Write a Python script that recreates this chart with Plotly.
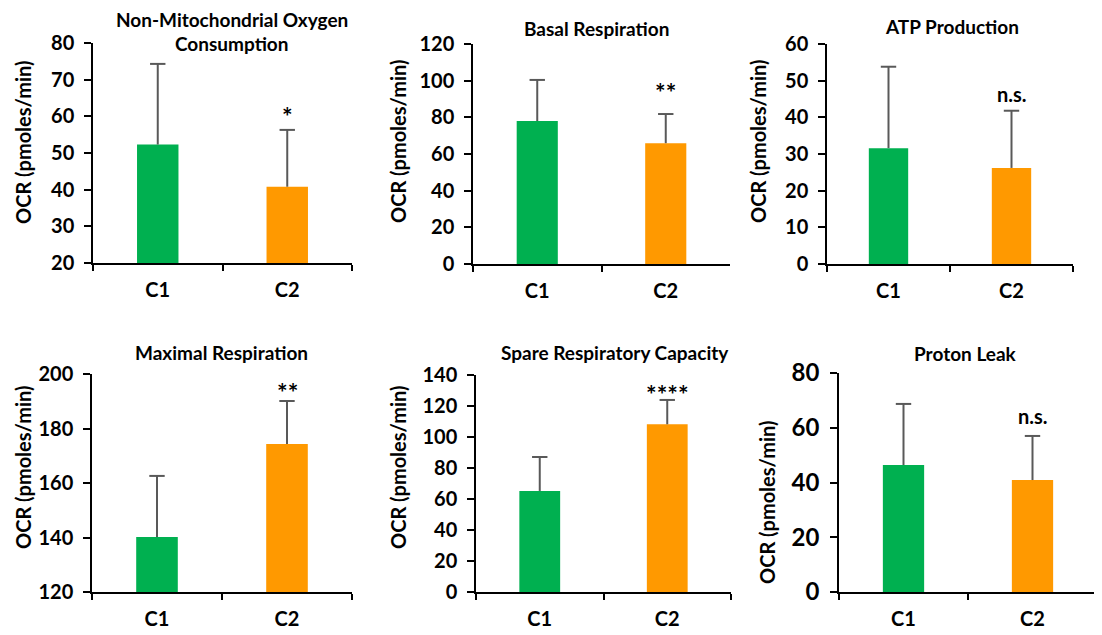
import plotly.graph_objects as go

# page body has an 8px margin, so the figure is drawn 8px in from the window edge
OFF = 8
W, H = 1102 - OFF, 635 - OFF

categories = ["C1", "C2"]
panel_titles = ["Non-Mitochondrial Oxygen Consumption", "Basal Respiration", "ATP Production",
                "Maximal Respiration", "Spare Respiratory Capacity", "Proton Leak"]

nonmito_mean = [52.3, 40.8]
nonmito_err = [22.0, 15.5]
basal_mean = [78.0, 65.9]
basal_err = [22.4, 15.9]
atp_mean = [31.6, 26.2]
atp_err = [22.2, 15.6]
maximal_mean = [140.2, 174.3]
maximal_err = [22.4, 15.8]
spare_mean = [65.2, 108.2]
spare_err = [21.9, 15.7]
proton_mean = [46.4, 40.9]
proton_err = [22.3, 16.1]

significance = ["*", "**", "n.s.", "**", "****", "n.s."]

y_ranges = [[20, 80], [0, 120], [0, 60], [120, 200], [0, 140], [0, 80]]
y_dticks = [10, 20, 10, 20, 20, 20]

means = [nonmito_mean, basal_mean, atp_mean, maximal_mean, spare_mean, proton_mean]
errs = [nonmito_err, basal_err, atp_err, maximal_err, spare_err, proton_err]

# layout geometry (window pixels): x0, x1, ytop, ybottom
boxes = [(93, 352, 43, 263), (473, 730, 44, 264), (827, 1073, 44, 264),
         (92, 352, 374, 592), (476, 731, 375, 592), (839, 1097, 373, 592)]
ytitle_pos = [(23, 142), (398, 141), (758, 141), (23, 467), (398, 467), (767, 502)]
title_pos = [(232, 28), (596, 28), (952, 27), (221, 352), (615, 352), (965, 353)]
sig_shift = [8, 16, 11, 3, 0, 14]
tick_font_sizes = [20, 20, 20, 20, 20, 24]


def px_x(x):
    return (x - OFF) / W


def px_y(y):
    return 1 - (y - OFF) / H


bar_colors = ["#00B050", "#FF9900"]
ERR_COLOR = "#595959"
FONT = "Lato"
fig = go.Figure()
annotations = []

for i in range(6):
    n = i + 1
    xa = "x" if n == 1 else f"x{n}"
    ya = "y" if n == 1 else f"y{n}"
    tops = [m + e for m, e in zip(means[i], errs[i])]
    fig.add_trace(go.Bar(
        x=categories, y=means[i], xaxis=xa, yaxis=ya,
        marker=dict(color=bar_colors, line=dict(width=0)),
        error_y=dict(type="data", array=errs[i], arrayminus=[0, 0], symmetric=False,
                     color=ERR_COLOR, thickness=2, width=0),
        showlegend=False, hoverinfo="skip",
    ))
    # error bar caps
    fig.add_trace(go.Scatter(
        x=categories, y=tops, xaxis=xa, yaxis=ya, mode="markers",
        marker=dict(symbol="line-ew", size=11, line=dict(color=ERR_COLOR, width=2)),
        showlegend=False, hoverinfo="skip", cliponaxis=False,
    ))
    x0, x1, yt, yb = boxes[i]
    xkey = "xaxis" if n == 1 else f"xaxis{n}"
    ykey = "yaxis" if n == 1 else f"yaxis{n}"
    fig.update_layout(**{
        xkey: dict(domain=[px_x(x0), px_x(x1)], anchor=ya, showline=True, linecolor="#000000",
                   linewidth=1.5, ticks="outside", tickson="boundaries", ticklen=6,
                   tickcolor="#000000", tickwidth=1.5, showgrid=False, zeroline=False,
                   tickfont=dict(family=FONT, size=20, color="#000000", weight="bold"),
                   ticklabelstandoff=8, fixedrange=True, automargin=False),
        ykey: dict(domain=[px_y(yb), px_y(yt)], anchor=xa, range=y_ranges[i],
                   dtick=y_dticks[i], showline=True, linecolor="#000000", linewidth=1.5,
                   ticks="outside", ticklen=7, tickcolor="#000000", tickwidth=1.5,
                   showgrid=False, zeroline=False,
                   tickfont=dict(family=FONT, size=tick_font_sizes[i], color="#000000", weight="bold"),
                   ticklabelstandoff=6, fixedrange=True, automargin=False),
    })
    # significance label above C2 error bar
    is_star = significance[i].startswith("*")
    annotations.append(dict(x=categories[1], y=tops[1], xref=xa, yref=ya,
                            text=f"<b>{significance[i]}</b>", showarrow=False, yanchor="bottom",
                            yshift=sig_shift[i] - 8 - (3 if is_star else 0),
                            font=dict(family=FONT, size=25 if is_star else 20, color="#000000")))
    # y axis title
    tx, ty = ytitle_pos[i]
    annotations.append(dict(x=px_x(tx), y=px_y(ty), xref="paper", yref="paper",
                            text="<b>OCR (pmoles/min)</b>", textangle=-90, showarrow=False,
                            xanchor="center", yanchor="middle",
                            font=dict(family=FONT, size=20, color="#000000")))
    # panel title
    px, py = title_pos[i]
    if i == 0:
        words = panel_titles[0].split(" ")
        lines = [" ".join(words[:2]), words[2]]
        for k, line in enumerate(lines):
            annotations.append(dict(x=px_x(px), y=px_y(19 + 25 * k), xref="paper", yref="paper",
                                    text=f"<b>{line}</b>", showarrow=False,
                                    xanchor="center", yanchor="middle",
                                    font=dict(family=FONT, size=19, color="#000000")))
    else:
        annotations.append(dict(x=px_x(px), y=px_y(py), xref="paper", yref="paper",
                                text=f"<b>{panel_titles[i]}</b>", showarrow=False,
                                xanchor="center", yanchor="middle",
                                font=dict(family=FONT, size=19, color="#000000")))

fig.update_layout(template="none", width=W, height=H, margin=dict(l=0, r=0, t=0, b=0),
                  paper_bgcolor="#FFFFFF", plot_bgcolor="#FFFFFF", bargap=0.68,
                  annotations=annotations, font=dict(family=FONT, color="#000000"))

fig.write_html("out.html")
